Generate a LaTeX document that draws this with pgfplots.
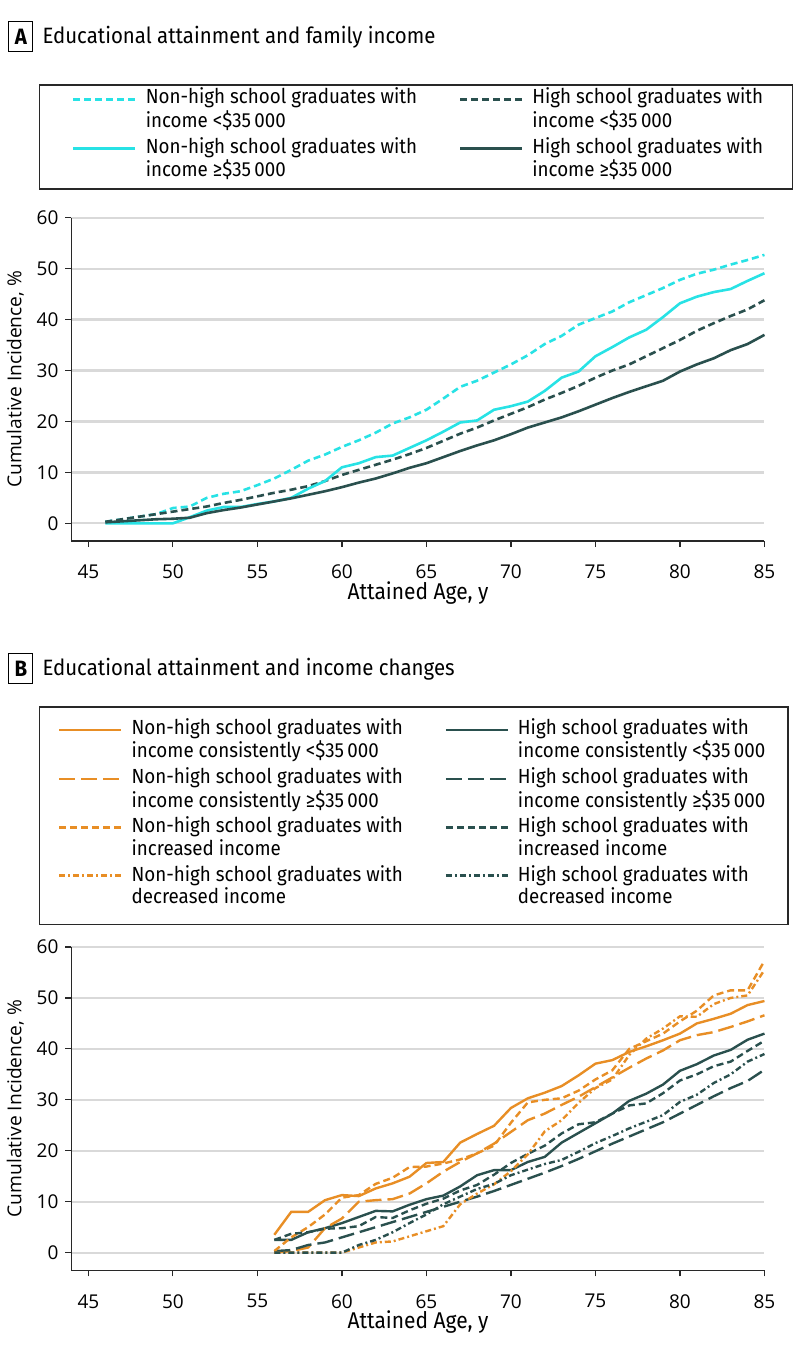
\documentclass[border=0pt]{standalone}
\usepackage{fontspec}
\setmainfont{Fira Sans}[FakeStretch=0.92]
\newfontfamily\tickfont{Open Sans}
\usepackage{pgfplots}
\usepackage{pgfplotstable}
\pgfplotsset{compat=1.18}

\definecolor{cyanc}{RGB}{40,226,229}
\definecolor{darkc}{RGB}{42,80,78}
\definecolor{orangec}{RGB}{232,142,37}
\definecolor{gridc}{RGB}{217,217,217}
\definecolor{axisc}{RGB}{40,40,40}

\newcommand\legfont{\fontsize{10.2}{10.9}\selectfont}
\newcommand\titfont{\fontsize{11.1}{12}\selectfont}
% two-line legend entry: fixed width, all of it above the baseline
\newcommand\lentry[3]{\raisebox{3.27pt}{\makebox[#1][l]{\begin{tabular}[b]{@{}l@{}}#2\\#3\end{tabular}}}}

% cumulative incidence (%) by attained age, panel A
\pgfplotstableread{
age nhLow nhHigh hsLow hsHigh
46 0.3 0.0 0.3 0.2
47 0.8 0.0 0.8 0.4
48 1.3 0.0 1.3 0.6
49 1.8 0.0 1.8 0.8
50 3.0 0.0 2.3 0.9
51 3.3 1.2 2.8 1.1
52 5.0 2.5 3.3 2.0
53 5.8 3.2 4.0 2.6
54 6.3 3.2 4.6 3.1
55 7.5 3.8 5.3 3.7
56 8.8 4.3 6.0 4.3
57 10.5 5.0 6.6 4.9
58 12.3 6.8 7.3 5.6
59 13.5 8.3 8.3 6.3
60 15.0 11.0 9.5 7.1
61 16.3 11.8 10.5 8.0
62 17.8 13.0 11.5 8.8
63 19.6 13.3 12.5 9.8
64 20.8 14.8 13.6 10.9
65 22.3 16.3 14.8 11.8
66 24.5 18.0 16.2 13.0
67 26.8 19.8 17.6 14.2
68 28.0 20.2 18.8 15.3
69 29.6 22.3 20.2 16.3
70 31.2 23.0 21.5 17.5
71 33.0 23.9 22.8 18.8
72 35.2 26.0 24.3 19.8
73 36.8 28.6 25.6 20.8
74 39.0 29.8 27.0 22.0
75 40.3 32.8 28.6 23.3
76 41.6 34.6 30.0 24.6
77 43.4 36.5 31.2 25.8
78 44.8 38.0 32.8 26.9
79 46.2 40.5 34.4 28.0
80 47.8 43.2 36.0 29.8
81 49.0 44.5 37.8 31.2
82 49.8 45.4 39.3 32.4
83 50.8 46.0 40.7 34.0
84 51.7 47.6 42.0 35.2
85 52.7 49.1 43.8 37.0
}\dataA

% panel B: o = non-high school graduates, d = high school graduates
\pgfplotstableread{
age oLow oHigh oInc oDec dLow dHigh dInc dDec
56 3.5 0.0 0.3 0.0 2.5 0.3 2.5 0.0
57 8.0 0.3 3.0 0.0 2.5 0.5 3.7 0.0
58 8.0 1.0 5.0 0.0 4.0 1.5 4.0 0.0
59 10.3 4.8 7.5 0.0 4.8 2.0 4.7 0.0
60 11.3 6.7 10.8 0.0 5.8 3.0 4.8 0.0
61 11.1 10.0 11.3 1.0 7.0 4.0 5.2 1.5
62 12.6 10.3 13.5 2.0 8.2 5.0 7.0 2.5
63 13.6 10.5 14.7 2.2 8.1 6.0 6.8 4.0
64 14.9 11.6 16.8 3.2 9.4 7.0 8.3 5.8
65 17.6 13.6 16.9 4.2 10.5 8.0 9.6 7.5
66 17.8 15.9 17.5 5.2 11.2 9.0 10.6 9.5
67 21.6 17.8 18.3 9.5 13.0 10.0 12.2 11.0
68 23.3 19.5 19.5 11.6 15.2 11.0 13.3 12.5
69 24.9 21.4 21.0 13.4 16.2 12.1 15.3 13.5
70 28.4 23.7 25.5 16.0 16.2 13.3 17.6 15.2
71 30.3 26.0 29.5 19.3 17.8 14.5 19.4 16.3
72 31.4 27.3 30.0 23.8 18.8 15.7 21.0 17.4
73 32.7 29.0 30.3 26.0 21.6 17.0 23.4 18.2
74 34.8 30.6 31.8 29.4 23.5 18.4 25.2 19.8
75 37.1 32.5 34.0 32.3 25.4 19.9 25.6 21.5
76 37.8 34.4 35.8 34.0 27.3 21.4 27.3 22.9
77 39.4 36.3 40.0 38.8 29.8 22.8 28.9 24.4
78 40.5 38.1 41.5 42.0 31.2 24.2 29.3 25.7
79 41.7 39.7 43.0 44.0 33.0 25.6 31.3 27.0
80 43.0 41.7 45.4 46.4 35.7 27.3 33.8 29.6
81 45.0 42.7 47.5 46.3 37.0 29.0 35.0 31.0
82 45.9 43.3 50.5 48.8 38.7 30.7 36.6 33.3
83 46.9 44.3 51.5 50.0 39.8 32.3 37.5 35.0
84 48.6 45.4 51.5 50.5 41.8 33.7 39.6 37.5
85 49.4 46.6 57.3 55.5 43.0 35.9 41.6 39.0
}\dataB

\pgfplotsset{
  panel/.style={
    width=346.5pt, height=161.65pt, scale only axis,
    xmin=44, xmax=85, ymin=-3.47, ymax=60,
    axis lines=left,
    axis line style={-, line width=0.6pt, draw=axisc},
    xtick={45,50,...,85}, ytick={0,10,...,60},
    tick align=outside, major tick length=3pt,
    tick style={line width=0.6pt, draw=axisc},
    ymajorgrids, grid style={line width=1.1pt, draw=gridc},
    /pgf/number format/assume math mode=true,
    tick label style={font=\tickfont\fontsize{9.5}{11}\selectfont},
    xticklabel style={yshift=-5.5pt},
    xlabel={Attained Age, y},
    xlabel style={at={(axis description cs:0.5,0)}, anchor=center,
      yshift=-26pt, font=\fontsize{11.4}{12}\selectfont},
    ylabel={Cumulative Incidence, \%},
    ylabel style={at={(axis description cs:-0.0812,0.5)}, anchor=center,
      font=\tickfont\fontsize{9.6}{11}\selectfont},
    clip=false,
    legend columns=2,
    legend image code/.code={\draw[##1] (0pt,17.3pt) -- (31pt,17.3pt);},
  },
  lgd/.style={
    draw=axisc, line width=0.6pt, fill=white, outer sep=0pt,
    row sep=0.2pt, font=\legfont,
    cells={anchor=base west},
    nodes={inner sep=0pt},
    /tikz/every odd column/.style={column sep=4.5pt},
    /tikz/every even column/.style={column sep=21.5pt},
  },
  dsh/.style={dash pattern=on 3.5pt off 2pt},
  lng/.style={dash pattern=on 8pt off 3pt},
  dd/.style={dash pattern=on 3pt off 1.5pt on 1pt off 1.5pt},
}

\begin{document}
\begin{tikzpicture}
\begin{scope}[x=0.5pt,y=-0.5pt]
\path[use as bounding box] (0,0) rectangle (798,1351);
\draw[line width=0.6pt] (6.7,21.7) rectangle (30.7,51.7);
\node[font=\titfont\bfseries] at (18.7,36.7) {A};
\node[anchor=base west, inner sep=0pt, font=\titfont] at (40,43.3)
  {Educational attainment and family income};
\draw[line width=0.6pt] (6.7,653.3) rectangle (30.7,683.3);
\node[font=\titfont\bfseries] at (18.7,668.3) {B};
\node[anchor=base west, inner sep=0pt, font=\titfont] at (40,675)
  {Educational attainment and income changes};
\end{scope}

% panel A
\begin{axis}[panel, at={(34.65pt,-270.5pt)}, anchor=south west,
  legend style={lgd, at={(axis description cs:-0.0466,1.4105)},
    anchor=north west, inner xsep=16.5pt, inner ysep=1.5pt}]
\addplot[cyanc, line width=1.3pt, dsh] table[x=age, y=nhLow] {\dataA};
\addlegendentry{\lentry{135pt}{Non-high school graduates with}{income <\$35\,000}}
\addplot[darkc, line width=1.3pt, dsh] table[x=age, y=hsLow] {\dataA};
\addlegendentry{\lentry{113.5pt}{High school graduates with}{income <\$35\,000}}
\addplot[cyanc, line width=1.3pt] table[x=age, y=nhHigh] {\dataA};
\addlegendentry{\lentry{135pt}{Non-high school graduates with}{income ≥\$35\,000}}
\addplot[darkc, line width=1.3pt] table[x=age, y=hsHigh] {\dataA};
\addlegendentry{\lentry{113.5pt}{High school graduates with}{income ≥\$35\,000}}
\end{axis}

% panel B
\begin{axis}[panel, at={(34.65pt,-635.15pt)}, anchor=south west,
  legend style={lgd, at={(axis description cs:-0.0466,1.7423)},
    anchor=north west, inner xsep=9.5pt, inner ysep=5.8pt}]
\addplot[orangec, line width=1.2pt] table[x=age, y=oLow] {\dataB};
\addlegendentry{\lentry{135pt}{Non-high school graduates with}{income consistently <\$35\,000}}
\addplot[darkc, line width=1.2pt] table[x=age, y=dLow] {\dataB};
\addlegendentry{\lentry{125.5pt}{High school graduates with}{income consistently <\$35\,000}}
\addplot[orangec, line width=1.2pt, lng] table[x=age, y=oHigh] {\dataB};
\addlegendentry{\lentry{135pt}{Non-high school graduates with}{income consistently ≥\$35\,000}}
\addplot[darkc, line width=1.2pt, lng] table[x=age, y=dHigh] {\dataB};
\addlegendentry{\lentry{125.5pt}{High school graduates with}{income consistently ≥\$35\,000}}
\addplot[orangec, line width=1.2pt, dsh] table[x=age, y=oInc] {\dataB};
\addlegendentry{\lentry{135pt}{Non-high school graduates with}{increased income}}
\addplot[darkc, line width=1.2pt, dsh] table[x=age, y=dInc] {\dataB};
\addlegendentry{\lentry{125.5pt}{High school graduates with}{increased income}}
\addplot[orangec, line width=1.2pt, dd] table[x=age, y=oDec] {\dataB};
\addlegendentry{\lentry{135pt}{Non-high school graduates with}{decreased income}}
\addplot[darkc, line width=1.2pt, dd] table[x=age, y=dDec] {\dataB};
\addlegendentry{\lentry{125.5pt}{High school graduates with}{decreased income}}
\end{axis}
\end{tikzpicture}
\end{document}
